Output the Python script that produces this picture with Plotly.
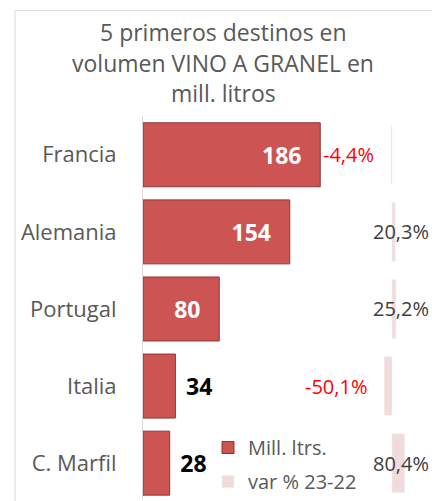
import plotly.graph_objects as go

# ---- data ----
categories = ["Francia", "Alemania", "Portugal", "Italia", "C. Marfil"]
mill_litros = [186, 154, 80, 34, 28]
var_pct = [-4.4, 20.3, 25.2, -50.1, 80.4]
title_lines = ["5 primeros destinos en", "volumen VINO A GRANEL en", "mill. litros"]
series_names = ["Mill. ltrs.", "var % 23-22"]

FONT = "Open Sans"
W, H = 432, 501
ML, MR, MT, MB = 143, 12, 116, 0
PW = W - ML - MR
PH = H - MT - MB

NB = "\u00a0"
TH = "\u2009"
inside = [v > 60 for v in mill_litros]
bar_text = [(f"<b>{v}</b>" + NB * 2 + TH) if ins else (TH * 2 + f"<b>{v}</b>")
            for v, ins in zip(mill_litros, inside)]

fig = go.Figure()
fig.add_trace(go.Bar(
    y=categories, x=mill_litros, orientation="h", name=series_names[0],
    marker=dict(color="#CC5554", line=dict(color="#8E3736", width=1)),
    width=0.83,
    text=bar_text, texttemplate="%{text}",
    textposition=["inside" if i else "outside" for i in inside],
    insidetextanchor="end",
    textfont=dict(family=FONT, size=23,
                  color=["white" if i else "black" for i in inside]),
    cliponaxis=False, legendgroup="a", hoverinfo="skip",
))
fig.add_trace(go.Bar(
    y=categories, x=var_pct, orientation="h", name=series_names[1],
    xaxis="x2", marker=dict(color="#F2DCDB"), width=0.76,
    legendgroup="b", hoverinfo="skip",
))

def fmt(v):
    return f"{v:.1f}%".replace(".", ",")

ann = []
for c, m, v in zip(categories, mill_litros, var_pct):
    if v < 0 and m > 100:
        ann.append(dict(xref="x", yref="y", x=m, y=c, xanchor="left", xshift=1,
                        text=fmt(v), showarrow=False,
                        font=dict(family=FONT, size=20, color="#FF0000")))
    elif v < 0:
        ann.append(dict(xref="x2", yref="y", x=v, y=c, xanchor="right", xshift=-15,
                        text=fmt(v), showarrow=False,
                        font=dict(family=FONT, size=20, color="#FF0000")))
    else:
        ann.append(dict(xref="paper", yref="y", x=(431 - ML) / PW, y=c, xanchor="right",
                        text=fmt(v), showarrow=False,
                        font=dict(family=FONT, size=20, color="#404040")))

for i, line in enumerate(title_lines):
    ann.append(dict(xref="paper", yref="paper", x=(223 - ML) / PW,
                    y=1 + (MT - (32 + 30.5 * i)) / PH, xanchor="center", yanchor="middle",
                    text=line, showarrow=False,
                    font=dict(family=FONT, size=23, color="#595959")))

fig.update_layout(
    width=W, height=H,
    margin=dict(l=ML, r=MR, t=MT, b=MB, pad=0),
    paper_bgcolor="white", plot_bgcolor="white",
    showlegend=True,
    legend=dict(x=(208 - ML) / PW, y=(H - 430) / PH, xanchor="left", yanchor="top",
                bgcolor="rgba(0,0,0,0)", traceorder="grouped", tracegroupgap=5,
                font=dict(family=FONT, size=20, color="#595959")),
    xaxis=dict(range=[0, PW / 0.953], visible=False, fixedrange=True),
    xaxis2=dict(range=[-249 / 0.155, 28 / 0.155], overlaying="x", side="top",
                visible=False),
    yaxis=dict(categoryorder="array", categoryarray=categories,
               range=[4.465, -0.503], showline=True, linecolor="#D9D9D9", linewidth=1,
               ticks="", showgrid=False, zeroline=False, ticklabelstandoff=21,
               tickfont=dict(family=FONT, size=22, color="#595959")),
    annotations=ann,
    shapes=[dict(type="rect", xref="paper", yref="paper",
                 x0=(15 - ML) / PW, x1=(445 - ML) / PW,
                 y0=-0.1, y1=1 + (MT - 10) / PH,
                 line=dict(color="#D9D9D9", width=1), layer="below")],
)

fig.write_html(
    "out.html",
    config={"displayModeBar": False},
    post_script="document.body.style.margin='0';document.body.style.overflow='hidden';"
                "document.documentElement.style.overflow='hidden';",
)
